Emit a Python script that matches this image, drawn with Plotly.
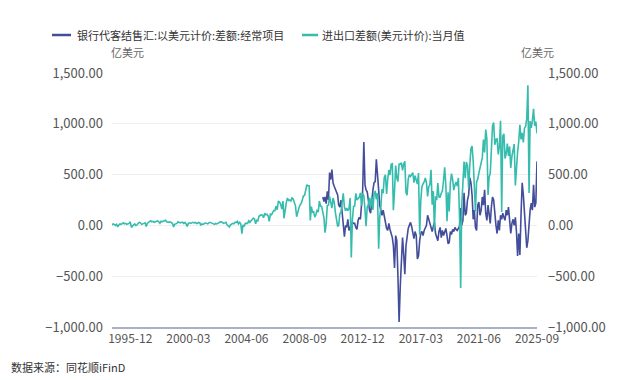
import pandas as pd
import plotly.graph_objects as go

# ---------------- data (亿美元) ----------------
teal_start = "1994-08-01"
teal_1994 = [5, 15, 10, 0, 10]
teal_1995 = [-15, 5, 15, 10, 20, 25, 15, 20, 10, 15, 20, 35]
teal_1996 = [-20, -5, 10, 15, 0, 5, 20, 30, 25, 10, 15, 20]
teal_1997 = [25, -10, 20, 30, 40, 45, 35, 40, 30, 35, 45, 45]
teal_1998 = [35, 20, 40, 35, 40, 45, 50, 35, 30, 30, 35, 30]
teal_1999 = [20, -15, 10, 15, 20, 35, 30, 25, 30, 30, 20, 30]
teal_2000 = [15, -10, 20, 25, 20, 25, 30, 25, 30, 20, 20, 30]
teal_2001 = [25, 0, 15, 10, 15, 25, 20, 15, 25, 30, 25, 20]
teal_2002 = [15, 10, 20, 15, 20, 30, 35, 35, 30, 20, 25, 30]
teal_2003 = [5, -10, -15, 5, 10, 20, 15, 30, 30, 40, 15, 30]
teal_2004 = [15, -80, 5, -10, 20, 20, 20, 45, 30, 45, 60, 70]
teal_2005 = [65, 15, 50, 45, 90, 95, 105, 100, 75, 120, 105, 110]
teal_2006 = [95, 40, 110, 105, 130, 145, 145, 190, 155, 240, 230, 210]
teal_2007 = [160, 240, 70, 170, 225, 270, 245, 250, 240, 270, 260, 225]
teal_2008 = [195, 85, 135, 170, 200, 215, 250, 290, 295, 350, 400, 390]
teal_2009 = [390, 48, 185, 130, 135, 82, 105, 155, 130, 240, 190, 185]
teal_2010 = [140, 75, -72, 17, 195, 200, 285, 200, 170, 270, 230, 130]
teal_2011 = [65, -9, 1, 115, 130, 220, 315, 180, 145, 170, 145, 165]
teal_2012 = [270, -315, 55, 185, 190, 315, 250, 265, 275, 320, 195, 315]
teal_2013 = [290, 153, -9, 181, 204, 271, 178, 286, 152, 311, 339, 256]
teal_2014 = [318, -230, 77, 184, 359, 316, 473, 498, 309, 454, 545, 496]
teal_2015 = [601, 606, 150, 341, 590, 465, 431, 603, 603, 617, 541, 605]
teal_2016 = [630, 326, 298, 455, 500, 481, 502, 520, 420, 490, 446, 407]
teal_2017 = [515, -91, 239, 380, 408, 427, 467, 420, 285, 381, 402, 547]
teal_2018 = [203, 337, -50, 287, 249, 416, 280, 279, 317, 340, 447, 571]
teal_2019 = [392, 41, 326, 138, 417, 510, 450, 348, 397, 428, 387, 467]
teal_2020 = [80, -617, 199, 453, 629, 464, 623, 589, 370, 585, 754, 781]
teal_2021 = [630, 375, 138, 428, 455, 515, 565, 583, 667, 845, 717, 944]
teal_2022 = [850, 300, 473, 511, 788, 979, 1013, 793, 847, 852, 698, 780]
teal_2023 = [1030, 132, 880, 902, 658, 706, 806, 683, 777, 565, 683, 753]
teal_2024 = [800, 393, 585, 723, 826, 990, 846, 910, 817, 957, 974, 1048]
teal_2025 = [1380, 320, 1027, 961, 1032, 1148, 981, 1023, 905]

blue_start = "2010-01-01"
blue_2010 = [280, 235, 280, 215, 335, 250, 520, 450, 550, 420, 385, 350]
blue_2011 = [330, 300, 200, 180, 250, 120, 50, -110, 0, -20, 60, -50]
blue_2012 = [-20, 0, 30, 20, 20, -20, -40, 50, 80, 60, 200, 350]
blue_2013 = [820, 400, 350, 330, 250, 150, 120, 250, 350, 420, 430, 650]
blue_2014 = [450, 350, 200, 130, 100, 150, 80, 0, -30, -50, 20, -40]
blue_2015 = [-80, -120, -200, -420, -100, -150, -500, -950, -600, -350, -120, -280]
blue_2016 = [-480, -200, -100, -30, 0, 30, -10, -60, -130, -60, -100, -330]
blue_2017 = [-300, -150, -80, -60, -100, -50, -30, 0, 100, 60, 20, -20]
blue_2018 = [-60, -10, 30, -80, -130, -150, -60, -20, -120, -50, -100, -60]
blue_2019 = [-30, -100, -180, -170, -60, -90, -40, -60, -20, -40, -50, -30]
blue_2020 = [-10, 170, 0, 50, 320, 100, 120, 250, 300, 470, 420, 300]
blue_2021 = [60, 150, -20, -50, 200, 230, 100, 150, 280, 200, 350, 120]
blue_2022 = [50, 200, 120, 20, 180, 280, 250, 100, 0, -80, 50, -50]
blue_2023 = [100, 60, 120, 80, 50, 150, 100, 180, 60, -80, 20, 60]
blue_2024 = [0, 80, -60, -300, -80, -290, 100, 420, 300, 100, -50, -220]
blue_2025 = [-150, 80, 150, 220, 150, 400, 180, 220, 630]

x_tick_labels = ["1995-12", "2000-03", "2004-06", "2008-09",
                 "2012-12", "2017-03", "2021-06", "2025-09"]
y_tick_values = [-1000, -500, 0, 500, 1000, 1500]

name_blue = "银行代客结售汇:以美元计价:差额:经常项目"
name_teal = "进出口差额(美元计价):当月值"
unit_text = "亿美元"
source_text = "数据来源：同花顺iFinD"

# ---------------- assemble ----------------
teal_vals = (teal_1994 + teal_1995 + teal_1996 + teal_1997 + teal_1998 + teal_1999
             + teal_2000 + teal_2001 + teal_2002 + teal_2003 + teal_2004 + teal_2005
             + teal_2006 + teal_2007 + teal_2008 + teal_2009 + teal_2010 + teal_2011
             + teal_2012 + teal_2013 + teal_2014 + teal_2015 + teal_2016 + teal_2017
             + teal_2018 + teal_2019 + teal_2020 + teal_2021 + teal_2022 + teal_2023
             + teal_2024 + teal_2025)
blue_vals = (blue_2010 + blue_2011 + blue_2012 + blue_2013 + blue_2014 + blue_2015
             + blue_2016 + blue_2017 + blue_2018 + blue_2019 + blue_2020 + blue_2021
             + blue_2022 + blue_2023 + blue_2024 + blue_2025)
teal_dates = pd.date_range(teal_start, periods=len(teal_vals), freq="MS")
blue_dates = pd.date_range(blue_start, periods=len(blue_vals), freq="MS")
tick_dates = [pd.Timestamp(t + "-01") for t in x_tick_labels]

BLUE = "#434d9a"
TEAL = "#36bcad"
FONT = "Noto Sans CJK SC"
TICK_COLOR = "#555555"

# window-pixel geometry of the plot area (page has an 8px body margin)
PL, PR, PT, PB = 112, 537, 73, 327
OFF = 8
W, H = 632, 372

fig = go.Figure()
fig.add_trace(go.Scatter(x=blue_dates, y=blue_vals, mode="lines", name=name_blue,
                         line=dict(color=BLUE, width=1.6), yaxis="y",
                         showlegend=False))
fig.add_trace(go.Scatter(x=teal_dates, y=teal_vals, mode="lines", name=name_teal,
                         line=dict(color=TEAL, width=1.6), yaxis="y2",
                         showlegend=False))

yfmt = dict(range=[-1000, 1500], tickvals=y_tick_values, tickformat=",.2f",
            showgrid=True, gridcolor="#eeeeee", gridwidth=1, zeroline=False,
            showline=False, ticks="", tickfont=dict(family=FONT, size=13, color=TICK_COLOR),
            fixedrange=True)

fig.update_layout(
    width=W, height=H,
    margin=dict(l=PL - OFF, r=W - (PR - OFF), t=PT - OFF, b=H - (PB - OFF)),
    paper_bgcolor="white", plot_bgcolor="white",
    font=dict(family=FONT, size=12, color="#333333"),
    xaxis=dict(type="date", range=[teal_dates[0], teal_dates[-1]],
               tickvals=tick_dates, ticktext=x_tick_labels,
               showgrid=False, zeroline=False, showline=True,
               linecolor="#a9b0c8", linewidth=2, ticks="",
               tickfont=dict(family=FONT, size=12, color=TICK_COLOR)),
    yaxis=dict(**yfmt, side="left", ticklabelstandoff=8),
    yaxis2=dict(**yfmt, side="right", overlaying="y", ticklabelstandoff=10),
    showlegend=False,
)

def px_x(p):
    return (p - PL) / (PR - PL)

def px_y(p):
    return (PB - p) / (PB - PT)

# legend (manual)
fig.add_shape(type="line", xref="paper", yref="paper", x0=px_x(52), x1=px_x(71),
              y0=px_y(35), y1=px_y(35), line=dict(color=BLUE, width=2.5))
fig.add_annotation(xref="paper", yref="paper", x=px_x(75), y=px_y(35), text=name_blue,
                   showarrow=False, xanchor="left", yanchor="middle",
                   font=dict(family=FONT, size=11, color="#333333"))
fig.add_shape(type="line", xref="paper", yref="paper", x0=px_x(302), x1=px_x(318),
              y0=px_y(35), y1=px_y(35), line=dict(color=TEAL, width=2.5))
fig.add_annotation(xref="paper", yref="paper", x=px_x(320), y=px_y(35), text=name_teal,
                   showarrow=False, xanchor="left", yanchor="middle",
                   font=dict(family=FONT, size=11, color="#333333"))

fig.add_annotation(xref="paper", yref="paper", x=px_x(127), y=px_y(52), text=unit_text,
                   showarrow=False, xanchor="center", yanchor="middle",
                   font=dict(family=FONT, size=11, color="#666666"))
fig.add_annotation(xref="paper", yref="paper", x=px_x(537), y=px_y(52), text=unit_text,
                   showarrow=False, xanchor="center", yanchor="middle",
                   font=dict(family=FONT, size=11, color="#666666"))
fig.add_annotation(xref="paper", yref="paper", x=px_x(9), y=px_y(367),
                   text=source_text, showarrow=False, xanchor="left", yanchor="middle",
                   font=dict(family=FONT, size=11, color="#333333"))

fig.write_html("out.html")
